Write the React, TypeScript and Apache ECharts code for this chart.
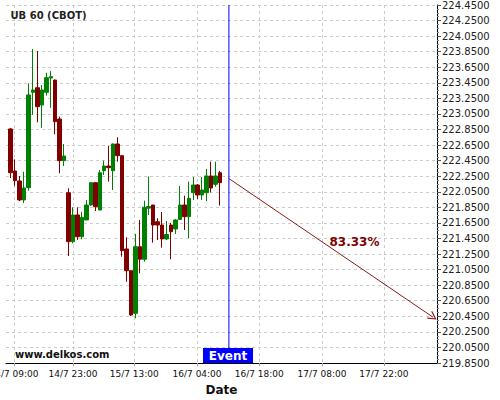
import React, { useEffect, useRef } from 'react';
import * as echarts from 'echarts';

// Hourly candles (index = hour slot from 14/7 08:00)
const opens = [222.857, 222.317, 222.189, 221.945, 222.103, 223.328, 223.387, 223.165, 223.328, 223.512, 223.486, 222.985, 222.45, 222.038, 221.409, 221.752, 221.473, 221.688, 221.88, 222.167, 221.816, 222.321, 222.381, 222.321, 222.664, 222.514, 221.315, 221.036, 220.489, 221.344, 221.183, 221.84, 221.88, 221.665, 221.623, 221.444, 221.623, 221.572, 221.694, 221.88, 221.73, 222.038, 222.137, 222.009, 222.038, 222.253, 222.146, 222.295];
const closes = [222.295, 222.193, 221.945, 222.099, 223.294, 223.358, 223.143, 223.358, 223.516, 223.529, 222.951, 222.45, 222.51, 221.409, 221.752, 221.473, 221.722, 221.88, 222.167, 221.858, 222.295, 222.381, 222.36, 222.664, 222.514, 221.293, 221.036, 220.467, 221.344, 221.183, 221.851, 221.86, 221.623, 221.623, 221.444, 221.501, 221.537, 221.688, 221.88, 221.73, 221.966, 222.137, 222.009, 222.073, 222.253, 222.099, 222.253, 222.167];
const lows = [222.227, 222.128, 221.93, 221.906, 222.064, 223.037, 222.943, 222.873, 223.285, 223.13, 222.789, 222.288, 222.381, 221.225, 221.388, 221.431, 221.44, 221.688, 221.868, 221.803, 221.816, 222.266, 222.18, 222.073, 222.437, 221.216, 220.895, 220.454, 220.425, 221.003, 221.152, 221.752, 221.396, 221.43, 221.332, 221.43, 221.183, 221.508, 221.69, 221.559, 221.456, 221.945, 221.957, 221.945, 221.93, 222.041, 222.115, 221.874];
const highs = [222.87, 222.467, 222.253, 222.308, 223.444, 223.885, 223.859, 223.422, 223.58, 223.602, 223.49, 223.015, 222.664, 222.095, 221.851, 221.851, 221.794, 221.945, 222.17, 222.167, 222.33, 222.45, 222.638, 222.67, 222.75, 222.52, 221.465, 221.04, 221.508, 221.688, 221.936, 222.246, 221.88, 221.71, 221.79, 221.675, 221.65, 221.7, 222.124, 222.0, 222.18, 222.24, 222.15, 222.24, 222.343, 222.437, 222.437, 222.317];

const tickHours = [0.75, 14, 27.75, 41.85, 55.8, 69.9, 83.8];
const tickLabels = ['14/7 09:00', '14/7 23:00', '15/7 13:00', '16/7 04:00', '16/7 18:00', '17/7 08:00', '17/7 22:00'];

const yMin = 219.85;
const yMax = 224.45;
const eventHour = 49;
const arrowFrom = [49, 222.22];
const arrowTo = [94.8, 220.44];
const forecastText = '83.33%';
const forecastAt = [77.2, 221.41];

const FONT = '"DejaVu Sans", sans-serif';

export default function App() {
  const ref = useRef<HTMLDivElement>(null);
  useEffect(() => {
    if (!ref.current) return;
    const chart = echarts.init(ref.current, null, { renderer: 'svg' });
    const data = opens.map((o, i) => [i, o, closes[i], lows[i], highs[i]]);
    const option: any = {
      animation: false,
      backgroundColor: '#ffffff',
      textStyle: { fontFamily: FONT },
      grid: { left: 6, right: 63, top: 5, bottom: 37, containLabel: false, outerBoundsMode: 'none' },
      xAxis: {
        type: 'value',
        min: -1.055,
        max: 95.73,
        scale: true,
        name: 'Date',
        nameLocation: 'middle',
        nameGap: 21,
        nameTextStyle: { fontWeight: 'bold', fontSize: 12, color: '#111', fontFamily: FONT },
        axisLine: { show: true, onZero: false, lineStyle: { color: '#000', width: 1 } },
        axisTick: { show: true, customValues: tickHours, length: 3, lineStyle: { color: '#999' } },
        axisLabel: {
          customValues: tickHours,
          fontSize: 9,
          color: '#111',
          margin: 6,
          fontFamily: FONT,
          hideOverlap: false,
          formatter: (v: number) => {
            const i = tickHours.findIndex((t) => Math.abs(t - v) < 1e-6);
            return i >= 0 ? tickLabels[i] : '';
          },
        },
        splitLine: { show: true, lineStyle: { color: '#cccccc', type: [3, 3], width: 1 } },
      },
      yAxis: {
        type: 'value',
        position: 'right',
        min: yMin,
        max: yMax,
        interval: 0.2,
        scale: true,
        axisLine: { show: true, onZero: false, lineStyle: { color: '#000', width: 1 } },
        axisTick: { show: true, length: 4, lineStyle: { color: '#555' } },
        minorTick: { show: true, splitNumber: 4, length: 2, lineStyle: { color: '#888' } },
        axisLabel: {
          fontSize: 10,
          color: '#222',
          margin: 5,
          fontFamily: FONT,
          formatter: (v: number) => v.toFixed(4),
        },
        splitLine: { show: true, lineStyle: { color: '#cccccc', type: [3, 3], width: 1 } },
      },
      series: [
        {
          type: 'candlestick',
          dimensions: ['h', 'open', 'close', 'lowest', 'highest'],
          encode: { x: 'h', y: ['open', 'close', 'lowest', 'highest'] },
          data,
          barWidth: 4,
          itemStyle: {
            color: '#008000',
            color0: '#800000',
            borderColor: '#008000',
            borderColor0: '#800000',
            borderWidth: 1,
          },
          markLine: {
            silent: true,
            symbol: 'none',
            label: { show: false },
            lineStyle: { color: '#8b1a1a', width: 1, type: 'solid' },
            data: [
              [
                { coord: arrowFrom, symbol: 'none' },
                {
                  coord: arrowTo,
                  symbol: 'path://M5,0 L10,9 L9,10 L5,2.5 L1,10 L0,9 Z',
                  symbolSize: [9, 9],
                },
              ],
            ],
          },
          markPoint: {
            silent: true,
            symbol: 'circle',
            symbolSize: 1,
            itemStyle: { color: 'rgba(0,0,0,0)' },
            data: [
              {
                coord: forecastAt,
                label: {
                  show: true,
                  position: 'inside',
                  formatter: forecastText,
                  color: '#800000',
                  fontWeight: 'bold',
                  fontSize: 12,
                  fontFamily: FONT,
                },
              },
            ],
          },
        },
        {
          type: 'line',
          data: [
            [eventHour, yMin],
            [eventHour, yMax],
          ],
          symbol: 'none',
          silent: true,
          color: '#0000ff',
          lineStyle: { color: '#0000ff', width: 1, type: 'solid' },
          z: 3,
        },
      ],
      graphic: [
        {
          type: 'text',
          x: 10.5,
          y: 15.5,
          z: 100,
          style: { text: 'UB 60 (CBOT)', font: `bold 10px ${FONT}`, fill: '#222', verticalAlign: 'middle' },
        },
        {
          type: 'text',
          x: 15,
          y: 354,
          z: 100,
          style: { text: 'www.delkos.com', font: `bold 10px ${FONT}`, fill: '#111', verticalAlign: 'middle' },
        },
        {
          type: 'rect',
          z: 100,
          shape: { x: 203, y: 348, width: 50, height: 15 },
          style: { fill: '#0000ff' },
        },
        {
          type: 'text',
          x: 228,
          y: 356,
          z: 101,
          style: { text: 'Event', font: `bold 12px ${FONT}`, fill: '#ffffff', align: 'center', verticalAlign: 'middle' },
        },
      ],
    };
    chart.setOption(option);
    return () => chart.dispose();
  }, []);
  return <div ref={ref} style={{ position: 'fixed', left: 0, top: 0, width: 500, height: 400 }} />;
}
